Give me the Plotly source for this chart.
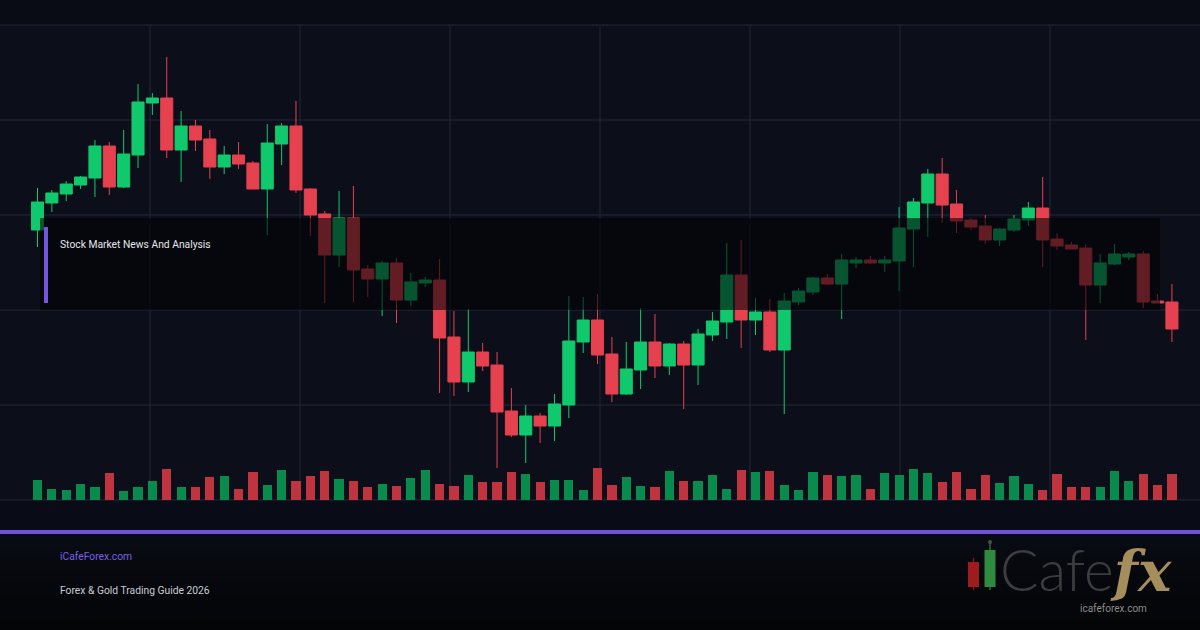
import plotly.graph_objects as go

# ---------------- data ----------------
sessions = list(range(80))

open_ = [77.0, 79.7, 80.6, 81.5, 82.2, 85.4, 81.3, 84.5, 89.7, 90.2,
         85.0, 87.4, 86.1, 83.3, 84.5, 83.7, 81.1, 85.6, 87.4, 81.1,
         78.6, 74.5, 78.2, 73.1, 72.1, 73.7, 70.0, 71.7, 72.0, 66.3,
         61.8, 64.8, 63.5, 58.9, 56.5, 58.4, 57.4, 59.5, 65.8, 68.0,
         64.6, 60.6, 63.0, 65.8, 63.4, 65.6, 63.5, 66.5, 67.8, 72.5,
         68.0, 68.8, 65.0, 69.8, 70.8, 72.2, 71.6, 73.7, 74.0, 73.7,
         73.9, 77.1, 79.7, 82.6, 79.6, 78.0, 77.4, 76.0, 77.0, 78.0,
         79.2, 76.1, 75.5, 75.2, 71.5, 73.6, 74.3, 74.6, 69.9, 69.8]
high = [81.2, 81.0, 81.9, 82.4, 86.0, 85.8, 87.0, 91.6, 90.7, 94.3,
        88.9, 88.0, 87.0, 85.4, 85.8, 83.9, 87.6, 87.7, 89.9, 81.2,
        78.9, 80.9, 81.4, 73.5, 73.9, 74.2, 72.7, 72.3, 74.1, 68.9,
        69.1, 65.7, 64.8, 61.2, 59.5, 58.7, 60.6, 70.4, 70.3, 70.6,
        66.3, 65.8, 69.2, 68.6, 65.7, 65.9, 67.1, 68.8, 75.7, 76.0,
        70.2, 70.1, 70.7, 71.2, 72.3, 72.6, 74.6, 74.3, 74.4, 74.4,
        79.3, 80.2, 83.1, 84.2, 81.0, 78.2, 78.5, 77.2, 78.5, 79.8,
        82.3, 76.7, 75.8, 75.6, 74.6, 75.6, 74.8, 74.9, 70.6, 71.6]
low = [75.3, 78.8, 79.9, 81.1, 80.3, 80.5, 81.2, 83.2, 88.5, 84.2,
       81.8, 84.9, 82.1, 82.6, 83.1, 81.1, 76.5, 83.5, 80.7, 76.4,
       69.7, 73.3, 69.8, 70.3, 68.4, 67.7, 69.4, 71.3, 60.7, 60.4,
       60.8, 62.9, 53.2, 56.3, 53.7, 55.7, 55.9, 58.2, 64.7, 63.6,
       59.8, 60.5, 61.1, 62.2, 62.5, 59.1, 61.5, 65.9, 66.1, 65.2,
       66.5, 64.8, 58.6, 69.5, 70.5, 71.5, 68.1, 73.2, 73.6, 72.8,
       70.9, 73.3, 76.3, 77.7, 76.7, 77.0, 75.6, 75.4, 76.8, 77.4,
       73.3, 75.0, 75.1, 66.0, 69.7, 73.5, 74.0, 69.2, 69.7, 65.8]
close = [79.8, 80.7, 81.6, 82.3, 85.4, 81.3, 84.6, 89.8, 90.2, 85.0,
         87.4, 86.0, 83.3, 84.5, 83.6, 81.1, 85.7, 87.4, 81.0, 78.5,
         74.5, 78.2, 73.0, 72.1, 73.7, 70.0, 71.8, 72.0, 66.2, 61.8,
         64.8, 63.4, 58.8, 56.5, 58.4, 57.4, 59.6, 65.9, 68.0, 64.5,
         60.6, 63.1, 65.8, 63.4, 65.6, 63.5, 66.6, 67.9, 72.5, 68.0,
         68.8, 65.0, 69.9, 70.9, 72.2, 71.6, 74.0, 74.0, 73.7, 74.0,
         77.2, 79.8, 82.6, 79.5, 77.9, 77.3, 76.0, 77.1, 78.1, 79.2,
         76.0, 75.4, 75.1, 71.5, 73.7, 74.6, 74.6, 69.8, 69.7, 67.1]
volume = [20, 11, 10, 16, 13, 27, 9, 13, 19, 31,
          13, 13, 23, 24, 11, 28, 15, 30, 19, 24,
          29, 21, 19, 13, 16, 14, 22, 30, 16, 14,
          25, 18, 18, 28, 26, 18, 20, 20, 10, 32,
          15, 23, 14, 13, 29, 19, 19, 25, 11, 30,
          28, 29, 15, 10, 28, 25, 24, 25, 11, 27,
          25, 31, 27, 18, 28, 11, 25, 17, 24, 16,
          10, 26, 13, 13, 13, 29, 19, 26, 15, 26]

title_text = "Stock Market News And Analysis"
site_text = "iCafeForex.com"
guide_text = "Forex & Gold Trading Guide 2026"
logo_word = "Cafe"
logo_mark = "fx"
logo_url = "icafeforex.com"

# ---------------- styles ----------------
W, H = 1200, 630
GREEN = "#10c96c"
RED = "#e6414f"
VGREEN = "#088b4c"
VRED = "#c0343f"
GRID = "#222738"
PURPLE = "#7052d6"
SMALL_FONT = "Roboto"
SMALL_SIZE = 10.3


def px(x):
    return x / W


def py(y):
    return 1 - y / H


vol_colors = [VGREEN if c >= o else VRED for o, c in zip(open_, close)]

fig = go.Figure()
fig.add_trace(go.Candlestick(
    x=sessions, open=open_, high=high, low=low, close=close,
    increasing=dict(line=dict(color=GREEN, width=1), fillcolor=GREEN),
    decreasing=dict(line=dict(color=RED, width=1), fillcolor=RED),
    whiskerwidth=0, showlegend=False, hoverinfo="skip",
))
fig.add_trace(go.Bar(
    x=sessions, y=volume, yaxis="y2", marker=dict(color=vol_colors, line=dict(width=0)),
    width=0.64, showlegend=False, hoverinfo="skip",
))

shapes = []
shapes.append(dict(type="rect", xref="paper", yref="paper", x0=0, x1=1, y0=py(25), y1=py(0),
                   fillcolor="#0a0c15", line=dict(width=0), layer="below"))
shapes.append(dict(type="rect", xref="paper", yref="paper", x0=0, x1=1, y0=py(530), y1=py(500),
                   fillcolor="#090c16", line=dict(width=0), layer="below"))
foot = ["#090b14", "#080a12", "#07090f", "#07080e", "#06070c", "#05060a", "#050609", "#040507"]
band = (630 - 534) / len(foot)
for i, c in enumerate(foot):
    shapes.append(dict(type="rect", xref="paper", yref="paper", x0=0, x1=1,
                       y0=py(534 + (i + 1) * band + 0.5), y1=py(534 + i * band),
                       fillcolor=c, line=dict(width=0), layer="below"))
for k in range(1, 8):
    shapes.append(dict(type="line", xref="paper", yref="paper", x0=k / 8, x1=k / 8,
                       y0=py(500), y1=py(25), line=dict(color=GRID, width=1), layer="below"))
for gy in [25, 120, 215, 310, 405, 500]:
    shapes.append(dict(type="line", xref="paper", yref="paper", x0=0, x1=1,
                       y0=py(gy), y1=py(gy), line=dict(color=GRID, width=1), layer="below"))
shapes.append(dict(type="rect", xref="paper", yref="paper", x0=px(40), x1=px(1160),
                   y0=py(310), y1=py(218), fillcolor="rgba(1,2,5,0.58)",
                   line=dict(width=0), layer="above"))
shapes.append(dict(type="rect", xref="paper", yref="paper", x0=px(44), x1=px(48),
                   y0=py(303), y1=py(227), fillcolor="#7455dd",
                   line=dict(width=0), layer="above"))
shapes.append(dict(type="rect", xref="paper", yref="paper", x0=0, x1=1,
                   y0=py(534), y1=py(530), fillcolor=PURPLE, line=dict(width=0), layer="above"))
# logo candles
shapes.append(dict(type="line", xref="paper", yref="paper", x0=px(973.5), x1=px(973.5),
                   y0=py(590), y1=py(558), line=dict(color="#7a1818", width=1.5), layer="above"))
shapes.append(dict(type="rect", xref="paper", yref="paper", x0=px(968), x1=px(979),
                   y0=py(587), y1=py(562), fillcolor="#9e1c1e", line=dict(width=0), layer="above"))
shapes.append(dict(type="line", xref="paper", yref="paper", x0=px(990), x1=px(990),
                   y0=py(590), y1=py(543), line=dict(color="#2a6e35", width=1.5), layer="above"))
shapes.append(dict(type="circle", xref="paper", yref="paper", x0=px(988), x1=px(992),
                   y0=py(544), y1=py(540), fillcolor="#3a5a40", line=dict(width=0), layer="above"))
shapes.append(dict(type="rect", xref="paper", yref="paper", x0=px(984.5), x1=px(995.5),
                   y0=py(587), y1=py(550), fillcolor="#2e8a3e", line=dict(width=0), layer="above"))

logo_text = (
    '<span style="font-family:Lato;font-weight:300;font-size:57px;color:#3d3d3f">'
    + logo_word + '</span>'
    '<span style="font-family:DejaVu Serif;font-style:italic;font-weight:bold;'
    'font-size:56px;color:#a68d5c">' + logo_mark + '</span>'
)

annotations = [
    dict(text=title_text, x=px(58), y=py(245), xref="paper", yref="paper",
         xanchor="left", yanchor="middle", showarrow=False,
         font=dict(family=SMALL_FONT, size=SMALL_SIZE, color="#e4e6ea")),
    dict(text=site_text, x=px(58), y=py(556.5), xref="paper", yref="paper",
         xanchor="left", yanchor="middle", showarrow=False,
         font=dict(family=SMALL_FONT, size=SMALL_SIZE, color="#7a5fe6")),
    dict(text=guide_text, x=px(58), y=py(590.5), xref="paper", yref="paper",
         xanchor="left", yanchor="middle", showarrow=False,
         font=dict(family=SMALL_FONT, size=SMALL_SIZE, color="#c9ccd3")),
    dict(text=logo_text, x=px(998), y=py(569), xref="paper", yref="paper",
         xanchor="left", yanchor="middle", showarrow=False,
         font=dict(family="Lato", size=57, color="#3d3d3f")),
    dict(text=logo_url, x=px(1113), y=py(608.5), xref="paper", yref="paper",
         xanchor="center", yanchor="middle", showarrow=False,
         font=dict(family=SMALL_FONT, size=10, color="#8c8c8e")),
]

spacing = 14.36
x0 = -37.5 / spacing
fig.update_layout(
    width=W, height=H, margin=dict(l=0, r=0, t=0, b=0),
    paper_bgcolor="#0a0d17", plot_bgcolor="#0c0f1a",
    xaxis=dict(range=[x0, x0 + W / spacing], visible=False, rangeslider=dict(visible=False),
               domain=[0, 1], fixedrange=True),
    yaxis=dict(range=[50, 97.5], domain=[py(500), py(25)], visible=False, fixedrange=True),
    yaxis2=dict(range=[0, 475], overlaying="y", visible=False, fixedrange=True),
    boxgap=0.16, boxgroupgap=0, bargap=0,
    shapes=shapes, annotations=annotations, showlegend=False,
)

fig.write_html("out.html")
